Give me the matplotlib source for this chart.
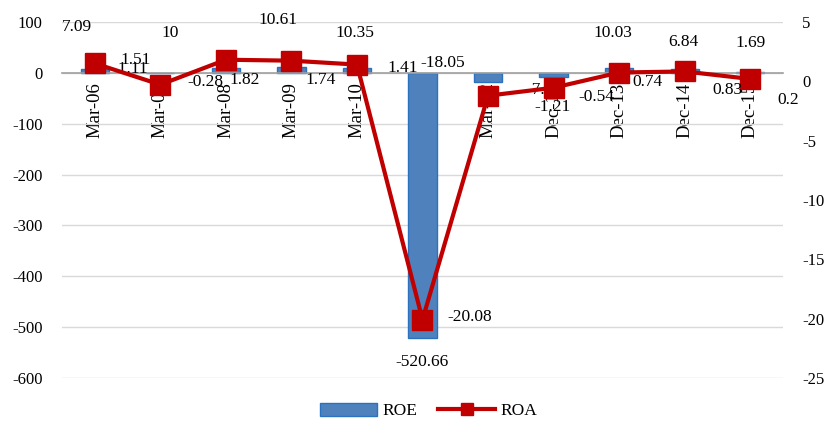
import matplotlib.pyplot as plt
import numpy as np

plt.rcParams['font.family'] = ['Liberation Serif', 'DejaVu Serif']
plt.rcParams['axes.unicode_minus'] = False

# Данные
periods = ['Mar-06', 'Mar-07', 'Mar-08', 'Mar-09', 'Mar-10', 'Mar-11',
           'Mar-12', 'Dec-12', 'Dec-13', 'Dec-14', 'Dec-15']
roe = [7.09, -1.11, 10, 10.61, 10.35, -520.66, -18.05, -7.47, 10.03, 6.84, 1.69]
roa = [1.51, -0.28, 1.82, 1.74, 1.41, -20.08, -1.21, -0.54, 0.74, 0.83, 0.2]
roe_text = ['7.09', '-1.11', '10', '10.61', '10.35', '-520.66', '-18.05', '-7.47', '10.03', '6.84', '1.69']
roa_text = ['1.51', '-0.28', '1.82', '1.74', '1.41', '-20.08', '-1.21', '-0.54', '0.74', '0.83', '0.2']

# Смещения подписей (в пикселях) как на исходной картинке
roe_off = [(-18, 42), (-30, 4), (-56, 35), (-13, 47), (-2, 35), (0, -24),
           (-45, 19), (-9, -13), (-6, 35), (-1, 27), (0, 29)]
roa_off = [(41, 3), (45, 3), (19, -20), (29, -19), (46, -3), (47, 3),
           (64, -11), (43, -9), (28, -9), (43, -19), (38, -21)]

x = np.arange(len(periods))

fig = plt.figure(figsize=(8.29, 4.22), dpi=100)
ax = fig.add_axes([0.0748, 0.1043, 0.8697, 0.8436])
ax2 = ax.twinx()

# Столбцы ROE
ax.bar(x, roe, width=0.43, color='#4f81bd', edgecolor='#2a72c0', linewidth=1, label='ROE', zorder=2)
ax.set_ylim(-600, 100)
ax.set_yticks(np.arange(-600, 101, 100))
ax.set_xlim(-0.5, len(periods) - 0.5)
ax.grid(axis='y', color='#d9d9d9', linewidth=1, zorder=0)
ax.set_axisbelow(True)

for s in ['top', 'left', 'right']:
    ax.spines[s].set_visible(False)
ax.spines['bottom'].set_position(('data', 0))
ax.spines['bottom'].set_color('#a0a0a0')
ax.spines['bottom'].set_linewidth(1.2)
ax.set_xticks(x)
ax.set_xticklabels(periods, rotation=90, fontsize=13.5)
ax.tick_params(axis='x', length=0, pad=7)
ax.tick_params(axis='y', length=0, pad=14, labelsize=12)

# Линия ROA
ax2.plot(x, roa, color='#c00000', linewidth=3, marker='s', markersize=14, label='ROA')
ax2.set_ylim(-25, 5)
ax2.set_yticks(np.arange(-25, 6, 5))
ax2.tick_params(axis='y', length=0, pad=14, labelsize=12)
for s in ax2.spines.values():
    s.set_visible(False)

# Подписи значений
for i in range(len(periods)):
    ax.annotate(roe_text[i], (x[i], roe[i]), xytext=roe_off[i], textcoords='offset pixels',
                ha='center', va='center', fontsize=12.5)
    ax2.annotate(roa_text[i], (x[i], roa[i]), xytext=roa_off[i], textcoords='offset pixels',
                 ha='center', va='center', fontsize=12.5)

# Легенда
h1, l1 = ax.get_legend_handles_labels()
h2, l2 = ax2.get_legend_handles_labels()
fig.legend(h1 + h2, l1 + l2, loc='center', bbox_to_anchor=(0.517, 0.026), ncol=2,
           frameon=False, fontsize=12.5, handlelength=3.3, handleheight=0.8,
           handletextpad=0.3, columnspacing=1.2, markerscale=0.6)

plt.savefig('out.png', dpi=100)
